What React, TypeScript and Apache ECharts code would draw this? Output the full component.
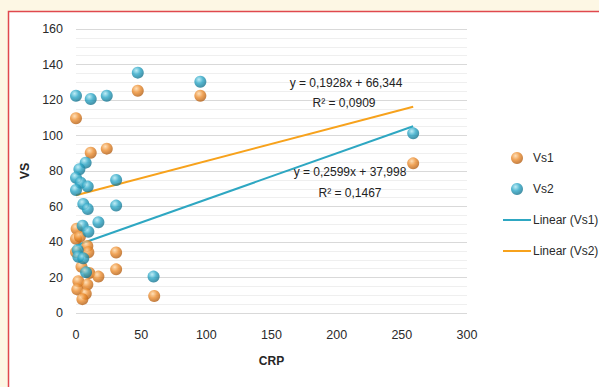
import React, { useEffect, useRef } from "react";
import * as echarts from "echarts";

const seriesNames = ["Vs1", "Vs2"];
const trendNames = ["Linear (Vs1)", "Linear (Vs2)"];

const vs1Points: number[][] = [
  [0, 109.7], [11.3, 90.3], [23.6, 92.6], [47.4, 125.2], [95.4, 122.4],
  [0.5, 47.5], [0, 41.8], [3, 43], [8.7, 37.8], [9.5, 34.2], [0, 34.3],
  [30.8, 34.1], [30.8, 24.6], [4.2, 26], [10.2, 22.5], [17.2, 20.5],
  [1.8, 17.9], [8.7, 16], [1, 13.3], [7.5, 10.8], [4.9, 7.8], [60, 9.6],
  [258.7, 84.3]
];

const vs2Points: number[][] = [
  [0, 122.4], [11.3, 120.6], [23.6, 122.4], [47.4, 135.4], [95.4, 130.3],
  [7.4, 84.7], [2.6, 81], [0, 76.2], [3.6, 73.4], [9, 71.2], [0, 69.3],
  [30.8, 74.9], [5.6, 61.4], [9, 58.6], [30.8, 60.5], [17.2, 51.1],
  [5.1, 49.2], [9.5, 45.8], [1.3, 35.5], [1.8, 31.7], [5.6, 30.8],
  [7.7, 22.9], [59.5, 20.5], [258.7, 101.2]
];

// Trendline coefficients as printed on the chart
const trendSlopes = [0.2599, 0.1928];
const trendIntercepts = [37.998, 66.344];
const equationTexts = ["y = 0,2599x + 37,998", "y = 0,1928x + 66,344"];
const rSquaredTexts = ["R² = 0,1467", "R² = 0,0909"];

const yTicks = { min: 0, max: 160, interval: 20 };
const xTicks = { min: 0, max: 300, interval: 50 };

const FONT = "'Liberation Sans', Arial, sans-serif";
const LINE_ICON = "path://M0,0H28V2H0Z";

function ball(light: string, mid: string, dark: string) {
  return {
    type: "radial",
    x: 0.38,
    y: 0.32,
    r: 0.75,
    colorStops: [
      { offset: 0, color: light },
      { offset: 0.45, color: mid },
      { offset: 1, color: dark }
    ]
  };
}

function trendLine(points: number[][], slope: number, intercept: number) {
  const xs = points.map((p) => p[0]);
  const x0 = Math.min(...xs);
  const x1 = Math.max(...xs);
  return [
    [x0, intercept + slope * x0],
    [x1, intercept + slope * x1]
  ];
}

export default function App() {
  const ref = useRef<HTMLDivElement>(null);

  useEffect(() => {
    if (!ref.current) return;
    const chart = echarts.init(ref.current, undefined, { renderer: "svg" });
    const orangeBall = ball("#ffd8a6", "#ec8d2f", "#a9560f");
    const blueBall = ball("#aee8f4", "#2ba6c6", "#126a84");
    const blueLine = "#2ea7c2";
    const orangeLine = "#f7a21c";
    const eqStyle = { fontFamily: FONT, fontSize: 12, fill: "#222", align: "center", verticalAlign: "middle" };

    chart.setOption({
      animation: false,
      backgroundColor: "#fdf7e4",
      textStyle: { fontFamily: FONT },
      grid: { left: 76, right: 132, top: 29, bottom: 74 },
      xAxis: {
        type: "value",
        min: xTicks.min,
        max: xTicks.max,
        interval: xTicks.interval,
        name: "CRP",
        nameLocation: "middle",
        nameGap: 42,
        nameTextStyle: { fontFamily: FONT, fontWeight: "bold", fontSize: 12, color: "#262626" },
        axisLine: { show: false },
        axisTick: { show: false },
        splitLine: { show: false },
        axisLabel: { fontFamily: FONT, fontSize: 12.5, color: "#2a2a2a", margin: 15 }
      },
      yAxis: {
        type: "value",
        min: yTicks.min,
        max: yTicks.max,
        interval: yTicks.interval,
        name: "VS",
        nameLocation: "middle",
        nameGap: 36,
        nameRotate: 90,
        nameTextStyle: { fontFamily: FONT, fontWeight: "bold", fontSize: 12.5, color: "#262626" },
        axisLine: { show: false },
        axisTick: { show: false },
        axisLabel: { fontFamily: FONT, fontSize: 12.5, color: "#2a2a2a", margin: 13 },
        splitLine: { show: true, lineStyle: { color: "#d9d9d9", width: 1 } },
        minorTick: { show: false, splitNumber: 4 },
        minorSplitLine: { show: true, lineStyle: { color: "#efefef", width: 1 } }
      },
      legend: {
        orient: "vertical",
        left: 498,
        top: 147,
        itemWidth: 28,
        itemHeight: 12,
        itemGap: 19,
        symbolKeepAspect: true,
        textStyle: { fontFamily: FONT, fontSize: 12, color: "#2a2a2a", padding: [0, 0, 0, -3] },
        data: [
          { name: seriesNames[0], icon: "circle" },
          { name: seriesNames[1], icon: "circle" },
          { name: trendNames[0], icon: LINE_ICON },
          { name: trendNames[1], icon: LINE_ICON }
        ]
      },
      graphic: [
        {
          type: "rect",
          z: -10,
          silent: true,
          shape: { x: 8.5, y: 11.5, width: 700, height: 500 },
          style: { fill: "#ffffff", stroke: "#e0484e", lineWidth: 1.5 }
        },
        { type: "text", z: 100, x: 346, y: 83, style: { text: equationTexts[1], ...eqStyle } },
        { type: "text", z: 100, x: 344, y: 103, style: { text: rSquaredTexts[1], ...eqStyle } },
        { type: "text", z: 100, x: 350, y: 172, style: { text: equationTexts[0], ...eqStyle } },
        { type: "text", z: 100, x: 350, y: 193, style: { text: rSquaredTexts[0], ...eqStyle } }
      ],
      series: [
        {
          name: trendNames[0],
          type: "line",
          data: trendLine(vs1Points, trendSlopes[0], trendIntercepts[0]),
          symbol: "none",
          lineStyle: { color: blueLine, width: 2 },
          itemStyle: { color: blueLine },
          z: 2
        },
        {
          name: trendNames[1],
          type: "line",
          data: trendLine(vs2Points, trendSlopes[1], trendIntercepts[1]),
          symbol: "none",
          lineStyle: { color: orangeLine, width: 2 },
          itemStyle: { color: orangeLine },
          z: 2
        },
        {
          name: seriesNames[0],
          type: "scatter",
          data: vs1Points,
          symbolSize: 12,
          itemStyle: { color: orangeBall },
          z: 3
        },
        {
          name: seriesNames[1],
          type: "scatter",
          data: vs2Points,
          symbolSize: 12,
          itemStyle: { color: blueBall },
          z: 4
        }
      ]
    });
    return () => chart.dispose();
  }, []);

  return (
    <div
      ref={ref}
      style={{ position: "fixed", left: 0, top: 0, width: 599, height: 387 }}
    />
  );
}
